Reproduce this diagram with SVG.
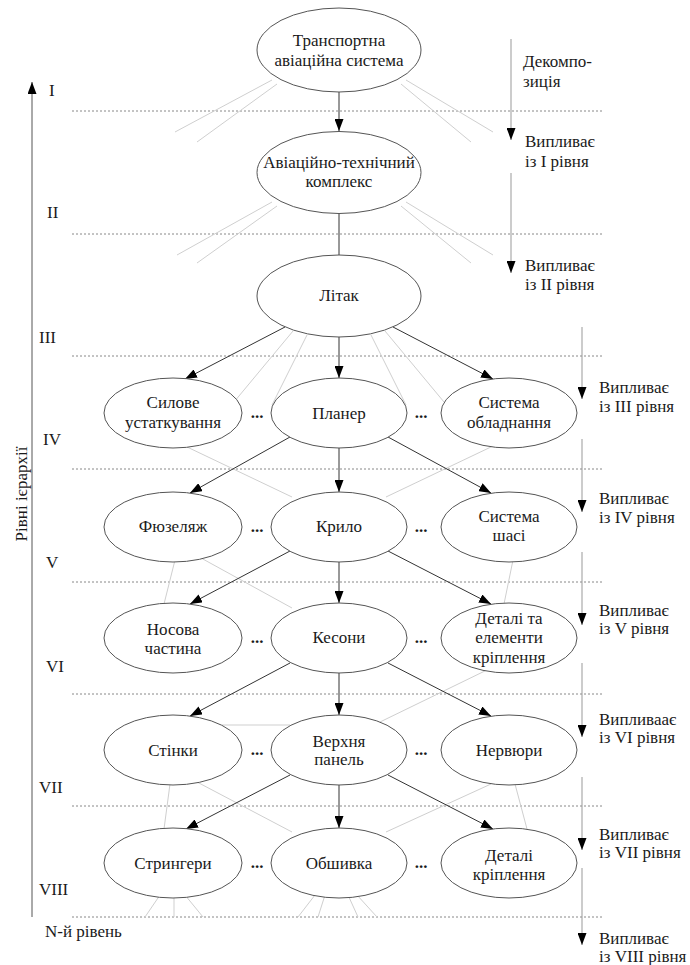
<svg xmlns="http://www.w3.org/2000/svg" width="690" height="965" viewBox="0 0 690 965" font-family="'Liberation Serif','DejaVu Serif',serif">
<style>
text{font-family:'Liberation Serif','Times New Roman',serif;font-size:17px;fill:#1a1a1a}
.c{text-anchor:middle}
.node ellipse{fill:#fff;stroke:#555;stroke-width:1}
.dash{stroke:#888;stroke-width:1;stroke-dasharray:2,2}
.faint{stroke:#cfcfcf;stroke-width:1;fill:none}
.conn{stroke:#333;stroke-width:1;fill:none}
.side{stroke:#999;stroke-width:1;fill:none}
.dots{font-weight:bold}
</style>
<defs>
<marker id="ah" markerUnits="userSpaceOnUse" markerWidth="12" markerHeight="9" refX="12" refY="4.5" orient="auto">
<path d="M0,0 L12,4.5 L0,9 z" fill="#000"/>
</marker>
</defs>
<rect width="690" height="965" fill="#fff"/>

<g id="levels">
<line class="dash" x1="72" y1="111" x2="602" y2="111"/>
<line class="dash" x1="72" y1="234" x2="602" y2="234"/>
<line class="dash" x1="72" y1="356" x2="602" y2="356"/>
<line class="dash" x1="72" y1="469" x2="602" y2="469"/>
<line class="dash" x1="72" y1="582" x2="602" y2="582"/>
<line class="dash" x1="72" y1="694" x2="602" y2="694"/>
<line class="dash" x1="72" y1="806" x2="602" y2="806"/>
<line class="dash" x1="72" y1="917" x2="602" y2="917"/>
</g>

<g id="axis">
<line x1="32" y1="917" x2="32" y2="82" stroke="#555" stroke-width="1" marker-end="url(#ah)"/>
<text transform="translate(27,494) rotate(-90)" class="c">Рівні ієрархії</text>
<text x="49" y="96">I</text>
<text x="47" y="218">II</text>
<text x="39" y="343">III</text>
<text x="43" y="445">IV</text>
<text x="46" y="568">V</text>
<text x="46" y="672">VI</text>
<text x="39" y="793">VII</text>
<text x="39" y="895">VIII</text>
<text x="45" y="937">N-й рівень</text>
</g>

<g id="faint-links">
<line class="faint" x1="272" y1="80" x2="175" y2="132"/>
<line class="faint" x1="277" y1="84" x2="197" y2="142"/>
<line class="faint" x1="406" y1="80" x2="493" y2="132"/>
<line class="faint" x1="401" y1="84" x2="471" y2="142"/>
<line class="faint" x1="272" y1="202" x2="177" y2="255"/>
<line class="faint" x1="277" y1="206" x2="197" y2="263"/>
<line class="faint" x1="406" y1="202" x2="493" y2="255"/>
<line class="faint" x1="401" y1="206" x2="471" y2="263"/>
<line class="faint" x1="293" y1="331" x2="234" y2="402"/>
<line class="faint" x1="307" y1="335" x2="272" y2="405"/>
<line class="faint" x1="371" y1="335" x2="406" y2="405"/>
<line class="faint" x1="385" y1="331" x2="444" y2="402"/>
<line class="faint" x1="185" y1="446" x2="292" y2="497"/>
<line class="faint" x1="493" y1="446" x2="386" y2="497"/>
<line class="faint" x1="175" y1="560" x2="164" y2="604"/>
<line class="faint" x1="201" y1="558" x2="292" y2="608"/>
<line class="faint" x1="513" y1="560" x2="504" y2="604"/>
<line class="faint" x1="491" y1="668" x2="380" y2="722"/>
<line class="faint" x1="222" y1="725" x2="290" y2="725"/>
<line class="faint" x1="170" y1="784" x2="164" y2="829"/>
<line class="faint" x1="197" y1="782" x2="292" y2="832"/>
<line class="faint" x1="491" y1="784" x2="386" y2="832"/>
<line class="faint" x1="515" y1="784" x2="527" y2="829"/>
<line class="faint" x1="160" y1="895" x2="145" y2="917"/>
<line class="faint" x1="174" y1="895" x2="174" y2="917"/>
<line class="faint" x1="185" y1="895" x2="203" y2="917"/>
<line class="faint" x1="315" y1="895" x2="298" y2="917"/>
<line class="faint" x1="325" y1="895" x2="318" y2="917"/>
<line class="faint" x1="348" y1="895" x2="358" y2="917"/>
<line class="faint" x1="357" y1="895" x2="377" y2="917"/>
</g>

<g id="connectors">
<line class="conn" x1="339" y1="92" x2="339" y2="131" marker-end="url(#ah)"/>
<line class="conn" x1="339" y1="214" x2="339" y2="255"/>
<line class="conn" x1="285" y1="327" x2="185" y2="379" marker-end="url(#ah)"/>
<line class="conn" x1="339" y1="337" x2="339" y2="378" marker-end="url(#ah)"/>
<line class="conn" x1="393" y1="327" x2="493" y2="379" marker-end="url(#ah)"/>
<line class="conn" x1="290" y1="437" x2="190" y2="493" marker-end="url(#ah)"/>
<line class="conn" x1="339" y1="448" x2="339" y2="492" marker-end="url(#ah)"/>
<line class="conn" x1="388" y1="437" x2="491" y2="493" marker-end="url(#ah)"/>
<line class="conn" x1="290" y1="551" x2="190" y2="604" marker-end="url(#ah)"/>
<line class="conn" x1="339" y1="562" x2="339" y2="603" marker-end="url(#ah)"/>
<line class="conn" x1="388" y1="551" x2="491" y2="604" marker-end="url(#ah)"/>
<line class="conn" x1="290" y1="663" x2="190" y2="716" marker-end="url(#ah)"/>
<line class="conn" x1="339" y1="673" x2="339" y2="715" marker-end="url(#ah)"/>
<line class="conn" x1="388" y1="663" x2="491" y2="716" marker-end="url(#ah)"/>
<line class="conn" x1="290" y1="775" x2="186" y2="829" marker-end="url(#ah)"/>
<line class="conn" x1="339" y1="785" x2="339" y2="828" marker-end="url(#ah)"/>
<line class="conn" x1="388" y1="775" x2="493" y2="829" marker-end="url(#ah)"/>
</g>

<g id="influence">
<line class="side" x1="511" y1="39" x2="511" y2="140" marker-end="url(#ah)"/>
<line class="side" x1="511" y1="173" x2="511" y2="273" marker-end="url(#ah)"/>
<line class="side" x1="582" y1="327" x2="582" y2="399" marker-end="url(#ah)"/>
<line class="side" x1="582" y1="439" x2="582" y2="512" marker-end="url(#ah)"/>
<line class="side" x1="582" y1="552" x2="582" y2="625" marker-end="url(#ah)"/>
<line class="side" x1="582" y1="663" x2="582" y2="737" marker-end="url(#ah)"/>
<line class="side" x1="582" y1="777" x2="582" y2="850" marker-end="url(#ah)"/>
<line class="side" x1="582" y1="868" x2="582" y2="945" marker-end="url(#ah)"/>
<text x="523" y="67">Декомпо-</text>
<text x="523" y="87">зиція</text>
<text x="525" y="147">Випливає</text>
<text x="525" y="167">із I рівня</text>
<text x="525" y="271">Випливає</text>
<text x="525" y="290">із II рівня</text>
<text x="599" y="393">Випливає</text>
<text x="599" y="412">із III рівня</text>
<text x="599" y="504">Випливає</text>
<text x="599" y="523">із IV рівня</text>
<text x="599" y="616">Випливає</text>
<text x="599" y="634">із V рівня</text>
<text x="599" y="725">Випливаає</text>
<text x="599" y="743">із VI рівня</text>
<text x="599" y="840">Випливає</text>
<text x="599" y="858">із VII рівня</text>
<text x="599" y="944">Випливає</text>
<text x="599" y="962">із VIII рівня</text>
</g>

<g id="n-tas" class="node"><ellipse cx="339" cy="50" rx="82" ry="42"/><text class="c" x="339" y="46">Транспортна</text><text class="c" x="339" y="66">авіаційна система</text></g>
<g id="n-atk" class="node"><ellipse cx="339" cy="172.5" rx="82" ry="41"/><text class="c" x="339" y="168">Авіаційно-технічний</text><text class="c" x="339" y="187">комплекс</text></g>
<g id="n-litak" class="node"><ellipse cx="339" cy="296" rx="82" ry="41"/><text class="c" x="339" y="301">Літак</text></g>

<g id="n-sylove" class="node"><ellipse cx="173" cy="413" rx="69" ry="35"/><text class="c" x="173" y="408">Силове</text><text class="c" x="173" y="428">устаткування</text></g>
<g id="n-planer" class="node"><ellipse cx="339" cy="413" rx="68" ry="35"/><text class="c" x="339" y="419">Планер</text></g>
<g id="n-obladn" class="node"><ellipse cx="509" cy="413" rx="68" ry="35"/><text class="c" x="509" y="408">Система</text><text class="c" x="509" y="428">обладнання</text></g>

<g id="n-fuzelazh" class="node"><ellipse cx="173" cy="527" rx="69" ry="35"/><text class="c" x="173" y="532">Фюзеляж</text></g>
<g id="n-krylo" class="node"><ellipse cx="339" cy="527" rx="68" ry="35"/><text class="c" x="339" y="532">Крило</text></g>
<g id="n-shasi" class="node"><ellipse cx="509" cy="527" rx="68" ry="35"/><text class="c" x="509" y="522">Система</text><text class="c" x="509" y="541">шасі</text></g>

<g id="n-nosova" class="node"><ellipse cx="173" cy="638" rx="69" ry="35"/><text class="c" x="173" y="635">Носова</text><text class="c" x="173" y="654">частина</text></g>
<g id="n-kesony" class="node"><ellipse cx="339" cy="638" rx="68" ry="35"/><text class="c" x="339" y="643">Кесони</text></g>
<g id="n-detali1" class="node"><ellipse cx="509" cy="638" rx="68" ry="35"/><text class="c" x="509" y="624">Деталі та</text><text class="c" x="509" y="643">елементи</text><text class="c" x="509" y="663">кріплення</text></g>

<g id="n-stinky" class="node"><ellipse cx="173" cy="750" rx="69" ry="35"/><text class="c" x="173" y="756">Стінки</text></g>
<g id="n-verkhnia" class="node"><ellipse cx="339" cy="750" rx="68" ry="35"/><text class="c" x="339" y="747">Верхня</text><text class="c" x="339" y="765">панель</text></g>
<g id="n-nervury" class="node"><ellipse cx="509" cy="750" rx="68" ry="35"/><text class="c" x="509" y="756">Нервюри</text></g>

<g id="n-stryngery" class="node"><ellipse cx="173" cy="863" rx="69" ry="35"/><text class="c" x="173" y="869">Стрингери</text></g>
<g id="n-obshyvka" class="node"><ellipse cx="339" cy="863" rx="68" ry="35"/><text class="c" x="339" y="869">Обшивка</text></g>
<g id="n-detali2" class="node"><ellipse cx="509" cy="863" rx="68" ry="35"/><text class="c" x="509" y="861">Деталі</text><text class="c" x="509" y="880">кріплення</text></g>

<g id="ellipsis">
<text class="c dots" x="257" y="418">...</text>
<text class="c dots" x="421" y="418">...</text>
<text class="c dots" x="257" y="532">...</text>
<text class="c dots" x="421" y="532">...</text>
<text class="c dots" x="257" y="643">...</text>
<text class="c dots" x="421" y="643">...</text>
<text class="c dots" x="257" y="755">...</text>
<text class="c dots" x="421" y="755">...</text>
<text class="c dots" x="257" y="868">...</text>
<text class="c dots" x="421" y="868">...</text>
</g>
</svg>
